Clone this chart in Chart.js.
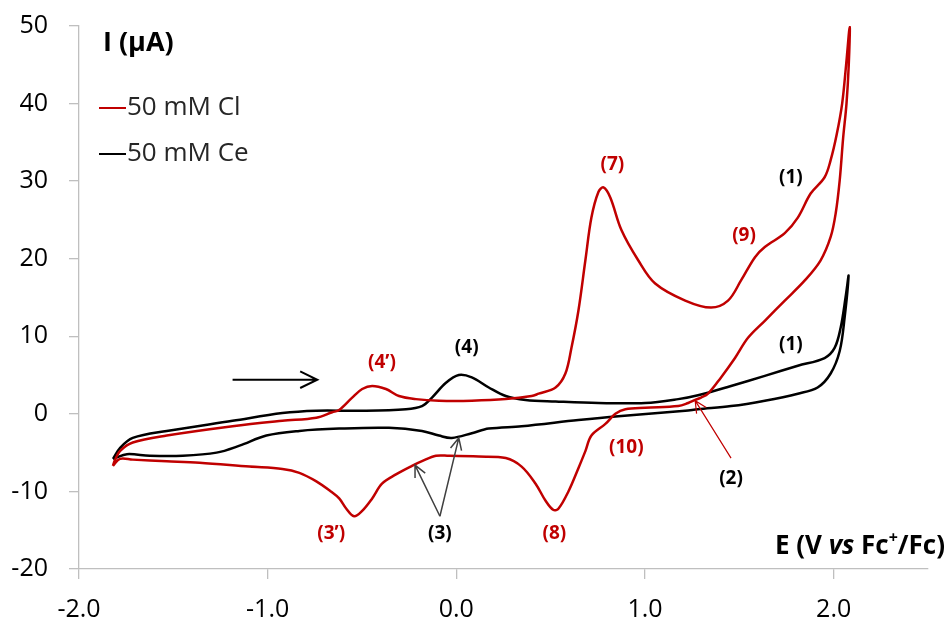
<!DOCTYPE html>
<html>
<head>
<meta charset="utf-8">
<script src="https://cdn.jsdelivr.net/npm/chart.js@4.4.1/dist/chart.umd.min.js"></script>
<style>
  html, body { margin: 0; padding: 0; background: #fff; }
  #wrap { width: 949px; height: 618px; }
</style>
</head>
<body>
<div id="wrap"><canvas id="cv"></canvas></div>
<script>
"use strict";

/* global Chart */

// Cyclic voltammograms, E (V vs Fc+/Fc) and I (µA)
const clE = [-1.820, -1.810, -1.783, -1.715, -1.535, -1.186, -0.922, -0.742, -0.658, -0.621,
    -0.552, -0.499, -0.446, -0.373, -0.304, -0.214, -0.092, 0.082, 0.262, 0.399,
    0.436, 0.526, 0.578, 0.610, 0.647, 0.684, 0.716, 0.753, 0.780, 0.816,
    0.875, 0.964, 1.054, 1.213, 1.350, 1.440, 1.509, 1.583, 1.635, 1.741,
    1.810, 1.878, 1.952, 1.984, 2.016, 2.045, 2.066, 2.085,
    2.080, 2.068, 2.050, 2.032, 2.011, 1.984, 1.931, 1.847, 1.741, 1.635,
    1.546, 1.477, 1.403, 1.334, 1.297, 1.266, 1.229, 1.176, 1.001, 0.896,
    0.843, 0.790, 0.716, 0.684, 0.647, 0.594, 0.542, 0.515, 0.473, 0.420,
    0.346, 0.262, 0.119, -0.040, -0.108, -0.182, -0.235, -0.320, -0.394, -0.446,
    -0.499, -0.542, -0.584, -0.621, -0.665, -0.742, -0.832, -0.922, -1.096, -1.361,
    -1.535, -1.715, -1.783, -1.820];
const clI = [-6.7, -6.0, -4.8, -3.7, -2.8, -1.6, -0.9, -0.5, 0.2, 0.5,
    2.1, 3.2, 3.6, 3.2, 2.3, 1.9, 1.7, 1.7, 1.9, 2.3,
    2.6, 3.4, 5.2, 8.5, 13.3, 19.8, 25.3, 28.6, 29.2, 27.9,
    23.7, 19.8, 16.8, 14.6, 13.7, 14.6, 17.2, 20.2, 21.5, 23.3,
    25.3, 28.4, 30.5, 32.7, 36.0, 40.0, 45.0, 49.9,
    45.0, 40.0, 35.5, 30.1, 25.9, 22.8, 19.8, 17.2, 14.6, 12.0,
    9.8, 7.2, 4.7, 2.6, 2.1, 1.8, 1.4, 1.0, 0.8, 0.6,
    0.0, -1.3, -2.8, -4.8, -7.0, -10.0, -12.2, -12.4, -11.2, -9.0,
    -6.8, -5.7, -5.5, -5.4, -5.4, -6.1, -6.7, -7.8, -9.0, -10.9,
    -12.5, -13.2, -12.2, -10.9, -10.0, -8.7, -7.6, -7.1, -6.8, -6.3,
    -6.1, -5.9, -5.8, -6.7];

const ceE = [-1.820, -1.783, -1.715, -1.535, -1.186, -0.922, -0.742, -0.515, -0.267, -0.182,
    -0.129, -0.055, 0.013, 0.082, 0.172, 0.262, 0.367, 0.526, 0.753, 1.001,
    1.176, 1.281, 1.456, 1.635, 1.810, 1.952, 2.005, 2.037, 2.063, 2.079,
    2.058, 2.032, 1.984, 1.915, 1.810, 1.635, 1.456, 1.281, 1.213, 0.859,
    0.647, 0.346, 0.172, 0.082, -0.024, -0.092, -0.182, -0.357, -0.621, -0.832,
    -1.007, -1.149, -1.271, -1.450, -1.625, -1.746, -1.810, -1.820];
const ceI = [-5.8, -4.4, -3.1, -2.2, -0.9, 0.1, 0.4, 0.4, 0.6, 1.0,
    2.1, 4.0, 5.0, 4.7, 3.4, 2.3, 1.8, 1.6, 1.4, 1.4,
    1.9, 2.4, 3.6, 4.9, 6.2, 7.2, 8.5, 11.1, 15.0, 17.8,
    12.4, 8.1, 5.2, 3.4, 2.6, 1.7, 1.0, 0.6, 0.4, -0.3,
    -0.8, -1.6, -1.9, -2.5, -3.1, -2.8, -2.2, -1.8, -1.9, -2.2,
    -2.8, -4.1, -5.0, -5.4, -5.4, -5.2, -5.7, -5.8];

const seriesNames = ["50 mM Cl", "50 mM Ce"];
const seriesColors = ["#c00000", "#000000"];

// peak labels
const noteText = ["(7)", "(9)", "(1)", "(1)", "(4\u2019)", "(4)", "(3\u2019)", "(3)", "(8)", "(10)", "(2)"];
const noteE = [0.827, 1.525, 1.773, 1.773, -0.394, 0.055, -0.663, -0.087, 0.520, 0.901, 1.456];
const noteI = [32.1, 23.0, 30.5, 8.9, 6.6, 8.5, -15.5, -15.5, -15.5, -4.4, -8.4];
const noteColor = ["#c00000", "#c00000", "#000000", "#000000", "#c00000", "#000000", "#c00000", "#000000", "#c00000", "#c00000", "#000000"];

// arrows: [fromE, fromI, toE, toI]
const arrowScan = [-1.186, 4.4, -0.737, 4.4];
const arrowsThree = [[-0.087, -13.2, -0.219, -6.6], [-0.087, -13.2, 0.013, -3.1]];
const arrowTwo = [1.456, -5.7, 1.266, 1.7];

const FONT = "'Open Sans', sans-serif";

document.addEventListener("DOMContentLoaded", function () {
    const ctx = document.getElementById("cv").getContext("2d");

    function toPoints(xs, ys) {
        return xs.map((v, i) => ({ x: v, y: ys[i] }));
    }

    function drawArrow(c, x0, y0, x1, y1, head, color, width) {
        const ang = Math.atan2(y1 - y0, x1 - x0);
        c.save();
        c.strokeStyle = color;
        c.lineWidth = width;
        c.beginPath();
        c.moveTo(x0, y0);
        c.lineTo(x1, y1);
        c.moveTo(x1 - head * Math.cos(ang - 0.45), y1 - head * Math.sin(ang - 0.45));
        c.lineTo(x1, y1);
        c.lineTo(x1 - head * Math.cos(ang + 0.45), y1 - head * Math.sin(ang + 0.45));
        c.stroke();
        c.restore();
    }

    const overlay = {
        id: "overlay",
        afterDatasetsDraw(chart) {
            const c = chart.ctx;
            const xs = chart.scales.x;
            const ys = chart.scales.y;
            const a = chart.chartArea;
            const px = v => xs.getPixelForValue(v);
            const py = v => ys.getPixelForValue(v);

            c.save();
            // axis titles
            c.fillStyle = "#000";
            c.textBaseline = "middle";
            c.textAlign = "left";
            c.font = "bold 27px " + FONT;
            c.fillText("I (\u00b5A)", a.left + 24, a.top + 17);

            // E (V vs Fc+/Fc), right aligned
            const parts = [
                { t: "E (V ", f: "bold 26px " + FONT, dy: 0 },
                { t: "vs", f: "italic bold 26px " + FONT, dy: 0 },
                { t: " Fc", f: "bold 26px " + FONT, dy: 0 },
                { t: "+", f: "bold 16px " + FONT, dy: -9 },
                { t: "/Fc)", f: "bold 26px " + FONT, dy: 0 }
            ];
            let total = 0;
            parts.forEach(p => { c.font = p.f; total += c.measureText(p.t).width; });
            let tx = chart.width - 4 - total;
            const ty = a.bottom - 22;
            parts.forEach(p => {
                c.font = p.f;
                c.fillText(p.t, tx, ty + p.dy);
                tx += c.measureText(p.t).width;
            });

            // legend
            c.font = "26px " + FONT;
            seriesNames.forEach((name, i) => {
                const ly = a.top + 82 + i * 46;
                c.strokeStyle = seriesColors[i];
                c.lineWidth = 2;
                c.beginPath();
                c.moveTo(a.left + 20, ly);
                c.lineTo(a.left + 47, ly);
                c.stroke();
                c.fillStyle = "#262626";
                c.fillText(name, a.left + 48, ly);
            });

            // peak labels
            c.textAlign = "center";
            c.font = "bold 19px " + FONT;
            noteText.forEach((t, i) => {
                c.fillStyle = noteColor[i];
                c.fillText(t, px(noteE[i]), py(noteI[i]));
            });
            c.restore();

            drawArrow(c, px(arrowScan[0]), py(arrowScan[1]), px(arrowScan[2]), py(arrowScan[3]), 19, "#000", 2);
            arrowsThree.forEach(ar => {
                drawArrow(c, px(ar[0]), py(ar[1]), px(ar[2]), py(ar[3]), 13, "#404040", 1.5);
            });
            drawArrow(c, px(arrowTwo[0]), py(arrowTwo[1]), px(arrowTwo[2]), py(arrowTwo[3]), 13, "#c00000", 1.2);
        }
    };

    new Chart(ctx, {
        type: "scatter",
        data: {
            datasets: [
                {
                    label: seriesNames[0],
                    data: toPoints(clE, clI),
                    borderColor: seriesColors[0],
                    borderWidth: 2.5,
                    showLine: true,
                    pointRadius: 0,
                    tension: 0.35
                },
                {
                    label: seriesNames[1],
                    data: toPoints(ceE, ceI),
                    borderColor: seriesColors[1],
                    borderWidth: 2.5,
                    showLine: true,
                    pointRadius: 0,
                    tension: 0.35
                }
            ]
        },
        options: {
            responsive: true,
            maintainAspectRatio: false,
            animation: false,
            layout: { padding: { top: 26, right: 21, left: 0, bottom: 0 } },
            plugins: {
                legend: { display: false },
                tooltip: { enabled: false }
            },
            scales: {
                x: {
                    type: "linear",
                    min: -2,
                    max: 2.5,
                    afterFit: s => { s.height = 49; s.paddingRight = 0; s.paddingLeft = 0; },
                    ticks: {
                        stepSize: 1,
                        includeBounds: false,
                        padding: 16,
                        color: "#000",
                        font: { family: FONT, size: 25 },
                        callback: v => v.toFixed(1)
                    },
                    grid: { drawOnChartArea: false, tickLength: 10, color: "#bfbfbf", lineWidth: 1.3 },
                    border: { color: "#bfbfbf", width: 1.3 }
                },
                y: {
                    min: -20,
                    max: 50,
                    afterFit: s => { s.width = 79; s.paddingTop = 0; s.paddingBottom = 0; },
                    ticks: {
                        stepSize: 10,
                        padding: 21,
                        color: "#000",
                        font: { family: FONT, size: 25 }
                    },
                    grid: { drawOnChartArea: false, tickLength: 10, color: "#bfbfbf", lineWidth: 1.3 },
                    border: { color: "#bfbfbf", width: 1.3 }
                }
            }
        },
        plugins: [overlay]
    });
});
</script>
</body>
</html>
